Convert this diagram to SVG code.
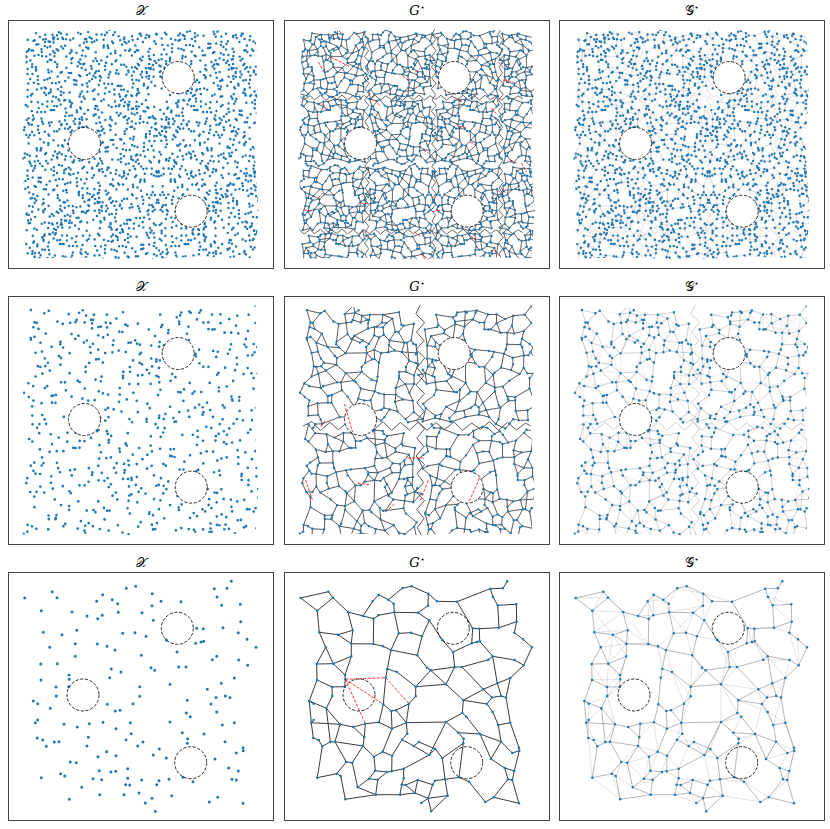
<svg xmlns="http://www.w3.org/2000/svg" width="830" height="829" viewBox="0 0 830 829">
<style>
.fr{fill:none;stroke:#444;stroke-width:1}
.ho{fill:#fff;stroke:#111;stroke-width:.9;stroke-dasharray:3.2 1.6}
.ho3{fill:none;stroke:#111;stroke-width:.9;stroke-dasharray:3.2 1.6}
.ttl{font-family:"DejaVu Serif","Liberation Serif",serif;font-size:13px;text-anchor:middle;fill:#000}
.dot{fill:none;stroke:#1f77b4;stroke-linecap:round}
.ed{fill:none;stroke:#3a3a3a;stroke-linecap:round}
.gl{fill:none;stroke:#707070;stroke-linecap:round}
.rd{fill:none;stroke:#f00;stroke-width:.8;stroke-dasharray:3 1.5}
</style>
<defs>
<clipPath id="cl"><polygon points="17,9 70,11 130,8 190,10 247,9 249,70 246,130 250,190 247,238 190,236 130,239 70,237 14,238 16,180 13,120 17,60"/></clipPath>
<path id="p3" d="M16.7 26h0M44.3 19.7h0M49 25.7h0M33.3 38.7h0M35.3 60.3h0M54 62.7h0M41.7 75.3h0M32.7 92h0M49.3 91.7h0M33 108h0M48 115h0M64 40h0M68.7 58.3h0M67.3 71.7h0M67.3 84.3h0M61 103h0M61.3 107.3h0M60.7 114.7h0M79 44h0M88.7 29.3h0M94.7 22.7h0M89.7 46.7h0M94.3 43.3h0M104.3 27.7h0M109.7 31.7h0M110.3 40.3h0M118.3 16.3h0M127.7 14.3h0M89.3 72h0M99 74.3h0M107 78h0M114.7 61.3h0M127 60.7h0M138 64.3h0M134 40.7h0M144.3 21.7h0M144 33.7h0M153 29.3h0M145.3 48.3h0M173 29.7h0M133.3 83.3h0M103.3 97h0M113 100h0M101.7 105.7h0M143 95.7h0M146.7 98.3h0M131.7 114.7h0M131.7 124.3h0M158.3 68h0M169 80h0M170.7 95h0M178 95h0M162 112.3h0M188.7 56.3h0M195.3 56.7h0M187.7 71.3h0M193 70h0M195.7 69.3h0M204.3 87.7h0M208.7 84.3h0M199.3 117.3h0M206.3 16.7h0M219 16.3h0M223.3 9.3h0M209 25h0M213.7 33.3h0M232.3 32.3h0M232.7 49.7h0M215 55.7h0M230.3 60.7h0M239 67.3h0M248 75.3h0M230.7 88h0M239.7 93.3h0M213.3 111.3h0M226.3 106h0M208 125.5h0M217.3 124h0M222 125.5h0M48.3 124h0M25.3 129h0M29.7 131.7h0M42.3 136.3h0M27.3 150.7h0M29.7 148h0M56 152.3h0M69.3 155h0M81.3 151.7h0M95 150.3h0M99.3 132.3h0M107.3 139h0M112 138.3h0M125 131.7h0M122.3 150.7h0M108 156.7h0M29.3 166h0M34.7 168h0M38.3 174.3h0M46.3 170h0M51 169.7h0M80.3 165.3h0M79 174h0M123.3 161.7h0M118 167.7h0M129.7 174h0M135 170h0M98.7 179.7h0M90 184.7h0M108 183.7h0M62.3 190h0M68.3 190.7h0M52.7 201.7h0M56.7 204h0M33.3 205.7h0M91.3 198.7h0M103 200h0M107.7 199.3h0M119.7 196.7h0M85 206.7h0M93.7 207.7h0M119.7 206.3h0M117.7 212.7h0M121.7 213h0M133.7 208h0M73.7 215.3h0M61.3 227.3h0M91.7 222.7h0M116 222.7h0M131 221h0M137.3 231h0M144 226.3h0M147.3 239.3h0M148.7 212.7h0M151 208.7h0M161 207.3h0M163.7 223.7h0M145.3 183h0M151.3 177h0M158.3 186h0M162 150h0M174.3 160.7h0M179.7 166.7h0M179.3 171.3h0M178.3 141h0M182.3 144.7h0M179.3 128.3h0M196 162h0M203 132h0M208.7 140h0M214.3 153h0M226.3 150.7h0M217 169.7h0M207 187h0M220.7 196h0M228.3 181h0M235 175.7h0M235.3 178.7h0M230.3 199h0M224 207.3h0M228.3 208h0M175 205.3h0M185 209.7h0M209.7 225.3h0M201.3 230h0M235 231.3h0"/>
<path id="e3" d="M16.7 26L44.3 19.7M16.7 26L33.3 38.7M44.3 19.7L49 25.7M49 25.7L33.3 38.7M49 25.7L64 40M33.3 38.7L35.3 60.3M64 40L68.7 58.3M64 40L79 44M35.3 60.3L54 62.7M35.3 60.3L41.7 75.3M54 62.7L68.7 58.3M54 62.7L67.3 71.7M68.7 58.3L67.3 71.7M67.3 71.7L67.3 84.3M67.3 71.7L89.3 72M41.7 75.3L32.7 92M41.7 75.3L49.3 91.7M32.7 92L49.3 91.7M32.7 92L33 108M49.3 91.7L67.3 84.3M49.3 91.7L61 103M67.3 84.3L61 103M61 103L61.3 107.3M61.3 107.3L60.7 114.7M33 108L48 115M33 108L25.3 129M48 115L60.7 114.7M48 115L48.3 124M48.3 124L42.3 136.3M25.3 129L29.7 131.7M25.3 129L42.3 136.3M25.3 129L27.3 150.7M42.3 136.3L56 152.3M27.3 150.7L56 152.3M27.3 150.7L29.7 148M56 152.3L69.3 155M56 152.3L51 169.7M69.3 155L81.3 151.7M81.3 151.7L95 150.3M81.3 151.7L80.3 165.3M95 150.3L99.3 132.3M95 150.3L108 156.7M99.3 132.3L107.3 139M101.7 105.7L99.3 132.3M107.3 139L112 138.3M107.3 139L108 156.7M112 138.3L125 131.7M112 138.3L122.3 150.7M125 131.7L131.7 124.3M122.3 150.7L108 156.7M122.3 150.7L123.3 161.7M131.7 124.3L131.7 114.7M122.3 150.7L162 150M162 150L178.3 141M162 150L174.3 160.7M162 150L145.3 183M174.3 160.7L179.7 166.7M174.3 160.7L196 162M179.7 166.7L179.3 171.3M179.3 171.3L158.3 186M179.3 171.3L175 205.3M178.3 141L182.3 144.7M178.3 141L179.3 128.3M182.3 144.7L196 162M179.3 128.3L199.3 117.3M179.3 128.3L162 112.3M179.3 128.3L203 132M196 162L217 169.7M196 162L207 187M203 132L208.7 140M203 132L208 125.5M208.7 140L214.3 153M214.3 153L226.3 150.7M214.3 153L217 169.7M226.3 150.7L222 125.5M226.3 150.7L235 175.7M217 169.7L228.3 181M217 169.7L207 187M207 187L220.7 196M220.7 196L230.3 199M220.7 196L224 207.3M228.3 181L235.3 178.7M235 175.7L235.3 178.7M235.3 178.7L230.3 199M230.3 199L228.3 208M224 207.3L228.3 208M224 207.3L209.7 225.3M228.3 208L235 231.3M209.7 225.3L201.3 230M209.7 225.3L235 231.3M175 205.3L185 209.7M175 205.3L161 207.3M185 209.7L201.3 230M161 207.3L151 208.7M161 207.3L163.7 223.7M161 207.3L158.3 186M163.7 223.7L144 226.3M163.7 223.7L147.3 239.3M151 208.7L148.7 212.7M148.7 212.7L133.7 208M148.7 212.7L144 226.3M144 226.3L137.3 231M144 226.3L147.3 239.3M144 226.3L131 221M131 221L133.7 208M131 221L121.7 213M131 221L116 222.7M133.7 208L121.7 213M116 222.7L91.7 222.7M116 222.7L117.7 212.7M91.7 222.7L93.7 207.7M91.7 222.7L61.3 227.3M91.7 222.7L73.7 215.3M61.3 227.3L56.7 204M73.7 215.3L85 206.7M73.7 215.3L68.3 190.7M85 206.7L93.7 207.7M85 206.7L91.3 198.7M93.7 207.7L103 200M91.3 198.7L90 184.7M91.3 198.7L103 200M103 200L107.7 199.3M107.7 199.3L119.7 196.7M107.7 199.3L108 183.7M119.7 196.7L119.7 206.3M119.7 196.7L145.3 183M119.7 206.3L117.7 212.7M117.7 212.7L121.7 213M108 183.7L98.7 179.7M108 183.7L118 167.7M90 184.7L98.7 179.7M90 184.7L79 174M98.7 179.7L108 156.7M118 167.7L123.3 161.7M118 167.7L129.7 174M129.7 174L135 170M135 170L151.3 177M129.7 174L145.3 183M145.3 183L151.3 177M151.3 177L158.3 186M79 174L80.3 165.3M79 174L68.3 190.7M68.3 190.7L62.3 190M62.3 190L52.7 201.7M62.3 190L51 169.7M52.7 201.7L56.7 204M52.7 201.7L33.3 205.7M33.3 205.7L38.3 174.3M29.3 166L34.7 168M34.7 168L38.3 174.3M29.3 166L27.3 150.7M38.3 174.3L46.3 170M46.3 170L51 169.7M79 44L89.7 46.7M79 44L88.7 29.3M88.7 29.3L94.7 22.7M94.7 22.7L104.3 27.7M89.7 46.7L94.3 43.3M94.3 43.3L110.3 40.3M104.3 27.7L109.7 31.7M104.3 27.7L118.3 16.3M109.7 31.7L110.3 40.3M118.3 16.3L127.7 14.3M127.7 14.3L144.3 21.7M144.3 21.7L144 33.7M144.3 21.7L153 29.3M144 33.7L134 40.7M153 29.3L173 29.7M134 40.7L110.3 40.3M134 40.7L145.3 48.3M145.3 48.3L138 64.3M145.3 48.3L158.3 68M110.3 40.3L114.7 61.3M114.7 61.3L127 60.7M127 60.7L138 64.3M138 64.3L133.3 83.3M114.7 61.3L107 78M89.3 72L99 74.3M99 74.3L107 78M89.3 72L89.7 46.7M107 78L103.3 97M107 78L133.3 83.3M103.3 97L113 100M103.3 97L101.7 105.7M113 100L131.7 114.7M133.3 83.3L143 95.7M143 95.7L146.7 98.3M146.7 98.3L162 112.3M146.7 98.3L131.7 114.7M146.7 98.3L170.7 95M158.3 68L169 80M169 80L170.7 95M170.7 95L178 95M170.7 95L162 112.3M173 29.7L188.7 56.3M173 29.7L206.3 16.7M188.7 56.3L195.3 56.7M188.7 56.3L187.7 71.3M195.3 56.7L195.7 69.3M187.7 71.3L193 70M193 70L195.7 69.3M195.3 56.7L215 55.7M195.7 69.3L208.7 84.3M169 80L187.7 71.3M204.3 87.7L208.7 84.3M178 95L204.3 87.7M178 95L199.3 117.3M208.7 84.3L230.7 88M208.7 84.3L213.3 111.3M199.3 117.3L208 125.5M199.3 117.3L213.3 111.3M206.3 16.7L219 16.3M206.3 16.7L209 25M219 16.3L223.3 9.3M209 25L213.7 33.3M213.7 33.3L215 55.7M213.7 33.3L232.3 32.3M232.3 32.3L232.7 49.7M232.7 49.7L230.3 60.7M232.7 49.7L215 55.7M230.3 60.7L239 67.3M239 67.3L248 75.3M248 75.3L239.7 93.3M230.7 88L239.7 93.3M239.7 93.3L226.3 106M213.3 111.3L226.3 106M213.3 111.3L217.3 124M226.3 106L222 125.5M208 125.5L217.3 124M217.3 124L222 125.5M131.7 114.7L162 112.3M125 131.7L122.3 150.7M69.3 155L80.3 165.3M51 169.7L79 174M42.3 136.3L46.3 170"/>
<path id="x3" d="M16.7 26L49 25.7M44.3 19.7L33.3 38.7M44.3 19.7L64 40M33.3 38.7L64 40M33.3 38.7L54 62.7M35.3 60.3L64 40M35.3 60.3L68.7 58.3M54 62.7L41.7 75.3M54 62.7L49.3 91.7M54 62.7L67.3 84.3M41.7 75.3L67.3 71.7M49.3 91.7L67.3 71.7M32.7 92L48 115M49.3 91.7L48 115M49.3 91.7L61.3 107.3M33 108L61.3 107.3M48 115L61 103M67.3 84.3L61.3 107.3M68.7 58.3L89.3 72M67.3 71.7L99 74.3M64 40L89.7 46.7M79 44L94.3 43.3M88.7 29.3L89.7 46.7M88.7 29.3L94.3 43.3M94.7 22.7L109.7 31.7M88.7 29.3L104.3 27.7M94.7 22.7L94.3 43.3M104.3 27.7L110.3 40.3M109.7 31.7L118.3 16.3M118.3 16.3L144.3 21.7M127.7 14.3L144 33.7M144.3 21.7L173 29.7M153 29.3L145.3 48.3M144 33.7L110.3 40.3M134 40.7L127 60.7M134 40.7L114.7 61.3M144 33.7L145.3 48.3M114.7 61.3L99 74.3M107 78L113 100M99 74.3L103.3 97M89.3 72L107 78M127 60.7L133.3 83.3M133.3 83.3L146.7 98.3M133.3 83.3L131.7 114.7M113 100L131.7 124.3M143 95.7L131.7 114.7M131.7 114.7L125 131.7M131.7 124.3L122.3 150.7M158.3 68L170.7 95M169 80L178 95M158.3 68L138 64.3M169 80L162 112.3M178 95L162 112.3M162 112.3L162 150M188.7 56.3L193 70M195.3 56.7L193 70M195.7 69.3L204.3 87.7M193 70L208.7 84.3M204.3 87.7L230.7 88M208.7 84.3L226.3 106M199.3 117.3L203 132M199.3 117.3L162 112.3M213.3 111.3L208 125.5M226.3 106L217.3 124M230.7 88L226.3 106M230.3 60.7L239.7 93.3M239 67.3L239.7 93.3M215 55.7L230.3 60.7M213.7 33.3L232.7 49.7M219 16.3L213.7 33.3M223.3 9.3L209 25M209 25L232.3 32.3M188.7 56.3L215 55.7M48.3 124L29.7 131.7M48.3 124L60.7 114.7M48.3 124L56 152.3M42.3 136.3L29.7 148M29.7 131.7L29.7 148M29.7 148L29.3 166M34.7 168L46.3 170M46.3 170L56 152.3M80.3 165.3L95 150.3M79 174L98.7 179.7M79 174L62.3 190M90 184.7L68.3 190.7M90 184.7L85 206.7M108 183.7L103 200M98.7 179.7L91.3 198.7M118 167.7L135 170M123.3 161.7L129.7 174M129.7 174L119.7 196.7M135 170L145.3 183M123.3 161.7L108 156.7M108 183.7L119.7 196.7M107.7 199.3L119.7 206.3M119.7 206.3L133.7 208M116 222.7L137.3 231M131 221L137.3 231M133.7 208L151 208.7M151 208.7L145.3 183M163.7 223.7L148.7 212.7M161 207.3L185 209.7M158.3 186L175 205.3M145.3 183L158.3 186M151.3 177L162 150M162 150L182.3 144.7M174.3 160.7L182.3 144.7M179.7 166.7L196 162M179.3 171.3L196 162M179.3 128.3L208.7 140M203 132L214.3 153M208.7 140L226.3 150.7M214.3 153L222 125.5M226.3 150.7L235.3 178.7M217 169.7L235.3 178.7M207 187L228.3 181M220.7 196L228.3 181M230.3 199L224 207.3M228.3 208L209.7 225.3M185 209.7L209.7 225.3M201.3 230L163.7 223.7M33.3 205.7L61.3 227.3M56.7 204L73.7 215.3M52.7 201.7L61.3 227.3M56.7 204L62.3 190M68.3 190.7L85 206.7M33.3 205.7L29.3 166M38.3 174.3L51 169.7M27.3 150.7L34.7 168M73.7 215.3L93.7 207.7M64 40L89.3 72M110.3 40.3L127 60.7M81.3 151.7L79 174M122.3 150.7L118 167.7M95 150.3L98.7 179.7M61.3 107.3L48.3 124M101.7 105.7L113 100M113 100L125 131.7M99.3 132.3L112 138.3M158.3 68L145.3 48.3M162 112.3L178.3 141M145.3 183L162 150M196 162L203 132M207 187L217 169.7"/>
<path id="r3" d="M61.3 107.3L101.7 105.7M61.3 107.3L99.3 132.3M61.3 107.3L81.3 151.7M101.7 105.7L125 131.7"/>
<path id="z1" d="M82 9L79.8 14L84.6 19.5L80.2 25.5L84.2 30L79.9 36L84.8 41.5L80.5 46.5L84 52.5L79.7 57.5L84.5 63L80.3 68.5L84.7 74L80 79.5L84.3 85L79.8 90.5L84.6 96L80.4 101L84.1 107L79.9 112.5L84.8 118L80.2 123.5L84.4 129L79.7 134.5L84.6 140L80.3 145.5L84 151L79.9 156.5L84.7 162L80.5 167.5L84.2 173L79.8 178.5L84.6 184L80.1 189.5L84.5 195L79.9 200.5L84.3 206L80.4 211.5L84.7 217L80 222.5L84.2 228L80.5 233.5L83 238"/>
<g id="Z1"><use href="#z1"/><use href="#z1" transform="translate(67,247) scale(1,-1)"/><use href="#z1" transform="translate(134,0)"/><use href="#z1" transform="translate(0,-5.1) matrix(0 1 1 0 0 0)"/><use href="#z1" transform="translate(247,61.9) matrix(0 1 -1 0 0 0) scale(1,-1)"/><use href="#z1" transform="translate(0,128.9) matrix(0 1 1 0 0 0)"/></g>
<path id="z2" d="M135.5 9L131.3 17.5L140.2 26L132 35.5L139.6 44L131.6 53L140.3 61.5L132.4 71L139.2 79.5L131.4 88.5L140 97L132.2 106L139.8 115L131.7 124L140.1 132.5L132.3 141.5L139.4 150L131.5 159.5L140.2 168L132.6 177L139.1 186L131.3 195L140 204L132.1 213L139.7 222L132.8 231L137 239"/>
<g id="Z2"><use href="#z2"/><use href="#z2" transform="translate(10,-6.2) matrix(0 1 1 0 0 0)"/></g>
<g id="holes"><circle class="ho" cx="169.7" cy="57" r="16"/><circle class="ho" cx="76" cy="123" r="16"/><circle class="ho" cx="182.7" cy="190.7" r="16"/></g>
<g id="holes3"><circle class="ho3" cx="169.3" cy="56.3" r="16"/><circle class="ho3" cx="75" cy="123" r="16"/><circle class="ho3" cx="182.7" cy="190.7" r="16"/></g>

<g id="B1" fill="none" transform="translate(-16,-9)"><use href="#x3" stroke="#707070" stroke-opacity=".14" stroke-width="1.7" stroke-linecap="round"/><use href="#e3" stroke-width="2.6" stroke-linecap="round" visibility="visible"/><use href="#p3" stroke="#1f77b4" stroke-opacity="1" stroke-linecap="round" visibility="visible"/></g>
<g id="B1v1" transform="matrix(-1 0 0 1 233 0)"><use href="#B1"/></g>
<g id="B1v2" transform="matrix(1 0 0 -1 0 231)"><use href="#B1"/></g>
<g id="B1v3" transform="matrix(-1 0 0 -1 233 231)"><use href="#B1"/></g>
<g id="B1v4" transform="matrix(0 1 -1 0 231 0)"><use href="#B1"/></g>
<g id="B1v5" transform="matrix(0 -1 1 0 0 233)"><use href="#B1"/></g>
<g id="B1v6" transform="matrix(0 1 1 0 0 0)"><use href="#B1"/></g>
<g id="B1v7" transform="matrix(0 -1 -1 0 231 233)"><use href="#B1"/></g>
<g id="R1">
<use href="#B1v2" transform="translate(14,9) scale(.3)"/><use href="#B1v5" transform="translate(81,9) scale(.3)"/><use href="#B1" transform="translate(148,9) scale(.3)"/><use href="#B1v7" transform="translate(215,9) scale(.3)"/>
<use href="#B1v6" transform="translate(14,76) scale(.3)"/><use href="#B1v3" transform="translate(81,76) scale(.3)"/><use href="#B1v4" transform="translate(148,76) scale(.3)"/><use href="#B1v1" transform="translate(215,76) scale(.3)"/>
<use href="#B1v1" transform="translate(14,143) scale(.3)"/><use href="#B1v7" transform="translate(81,143) scale(.3)"/><use href="#B1v5" transform="translate(148,143) scale(.3)"/><use href="#B1v2" transform="translate(215,143) scale(.3)"/>
<use href="#B1v4" transform="translate(14,210) scale(.3)"/><use href="#B1" transform="translate(81,210) scale(.3)"/><use href="#B1v6" transform="translate(148,210) scale(.3)"/><use href="#B1v3" transform="translate(215,210) scale(.3)"/>
</g>

<g id="B2" fill="none" transform="translate(-16,-9)"><use href="#x3" stroke="#707070" stroke-opacity=".16" stroke-width="1.3" stroke-linecap="round"/><use href="#e3" stroke-width="1.6" stroke-linecap="round" visibility="visible"/><use href="#p3" stroke="#1f77b4" stroke-opacity="1" stroke-linecap="round" visibility="visible"/></g>
<g id="B2v1" transform="matrix(-1 0 0 1 233 0)"><use href="#B2"/></g>
<g id="B2v3" transform="matrix(-1 0 0 -1 233 231)"><use href="#B2"/></g>
<g id="B2v4" transform="matrix(0 1 -1 0 231 0)"><use href="#B2"/></g>
<g id="B2v6" transform="matrix(0 1 1 0 0 0)"><use href="#B2"/></g>
<g id="R2">
<use href="#B2v3" transform="translate(15,9) scale(.53)"/><use href="#B2v4" transform="translate(133.5,9) scale(.53)"/>
<use href="#B2v6" transform="translate(15,127.5) scale(.53)"/><use href="#B2v1" transform="translate(133.5,127.5) scale(.53)"/>
</g>
</defs>

<!-- Row 1 -->
<g id="panel-x-1" transform="translate(8.5,20.5)">
<text class="ttl" x="132.5" y="-5.5">𝒳</text>
<g clip-path="url(#cl)"><use href="#R1" style="stroke:none;visibility:hidden;stroke-width:8.3"/></g>
<use href="#holes"/>
<rect class="fr" x="0" y="0" width="265" height="248"/>
</g>
<g id="panel-g-1" transform="translate(284.5,20.5)">
<text class="ttl" x="132.5" y="-5.5"><tspan font-style="italic">G</tspan><tspan font-size="8" dy="-5">⋆</tspan></text>
<g clip-path="url(#cl)"><use href="#Z1" class="ed" style="stroke-width:.75"/><use href="#R1" style="stroke:#3a3a3a;stroke-opacity:1;visibility:hidden;stroke-width:7.3"/></g>
<use href="#holes"/>
<path class="rd" d="M46 36.5L66 46.5M34 41.5L39 51.5M118 55.5L124 59.5M131 51.5L136 47.5M38 83.5L44 89.5M90 79.5L96 85.5M171 77.5L178 81.5M214 41.5L219 47.5M219 59.5L229 61.5M207 87.5L212 93.5M174 105.5L182 107.5M34 177.5L38 172.5M19 189.5L28 190.5M76 182.5L86 183.5M148 191.5L156 189.5M130 211.5L136 215.5M186 215.5L192 219.5M136 233.5L144 238.5M210 230.5L216 235.5M216 166.5L221 172.5M237 142.5L242 151.5M226 139.5L232 142.5M186 121.5L191 124.5M139 129.5L144 132.5"/>
<rect class="fr" x="0" y="0" width="265" height="248"/>
</g>
<g id="panel-gc-1" transform="translate(559.5,20.5)">
<text class="ttl" x="132.5" y="-5.5">𝒢<tspan font-size="8" dy="-5">⋆</tspan></text>
<g clip-path="url(#cl)"><use href="#Z1" class="gl" style="stroke-width:.7;stroke-opacity:.3"/><use href="#R1" style="stroke:#707070;stroke-opacity:.3;visibility:visible;stroke-width:8"/></g>
<use href="#holes"/>
<rect class="fr" x="0" y="0" width="265" height="248"/>
</g>

<!-- Row 2 -->
<g id="panel-x-2" transform="translate(8.5,296.5)">
<text class="ttl" x="132.5" y="-5.5">𝒳</text>
<g clip-path="url(#cl)"><use href="#R2" style="stroke:none;visibility:hidden;stroke-width:5.1"/></g>
<use href="#holes"/>
<rect class="fr" x="0" y="0" width="265" height="248"/>
</g>
<g id="panel-g-2" transform="translate(284.5,296.5)">
<text class="ttl" x="132.5" y="-5.5"><tspan font-style="italic">G</tspan><tspan font-size="8" dy="-5">⋆</tspan></text>
<g clip-path="url(#cl)"><use href="#Z2" class="ed" style="stroke-width:.85"/><use href="#R2" style="stroke:#3a3a3a;stroke-opacity:1;visibility:hidden;stroke-width:4.5"/></g>
<use href="#holes"/>
<path class="rd" d="M21 183.5L28 203.5M73 186.5L86 188.5M123 161.5L139 161.5M136 203.5L144 183.5M101 215.5L111 206.5M195 181.5L184 206.5M36 130.5L41 123.5M60 107.5L68 135.5"/>
<rect class="fr" x="0" y="0" width="265" height="248"/>
</g>
<g id="panel-gc-2" transform="translate(559.5,296.5)">
<text class="ttl" x="132.5" y="-5.5">𝒢<tspan font-size="8" dy="-5">⋆</tspan></text>
<g clip-path="url(#cl)"><use href="#Z2" class="gl" style="stroke-width:.85;stroke-opacity:.4"/><use href="#R2" style="stroke:#707070;stroke-opacity:.4;visibility:visible;stroke-width:4.7"/></g>
<use href="#holes"/>
<rect class="fr" x="0" y="0" width="265" height="248"/>
</g>

<!-- Row 3 -->
<g id="panel-x-3" transform="translate(8,572)">
<text class="ttl" x="133" y="-5">𝒳</text>
<use href="#p3" class="dot" style="stroke-width:3"/>
<use href="#holes3"/>
<rect class="fr" x="0.5" y="0.5" width="265" height="248"/>
</g>
<g id="panel-g-3" transform="translate(284,572)">
<text class="ttl" x="133" y="-5"><tspan font-style="italic">G</tspan><tspan font-size="8" dy="-5">⋆</tspan></text>
<g id="connectors-3"><use href="#e3" class="ed" style="stroke-width:1"/><use href="#r3" class="rd"/></g>
<use href="#p3" class="dot" style="stroke-width:2.6"/>
<use href="#holes3"/>
<rect class="fr" x="0.5" y="0.5" width="265" height="248"/>
</g>
<g id="panel-gc-3" transform="translate(559,572)">
<text class="ttl" x="133" y="-5">𝒢<tspan font-size="8" dy="-5">⋆</tspan></text>
<g id="connectors-3b"><use href="#x3" class="gl" style="stroke-width:.9;stroke-opacity:.22"/><use href="#e3" class="gl" style="stroke-width:1;stroke-opacity:.5"/></g>
<use href="#p3" class="dot" style="stroke-width:2.6"/>
<use href="#holes3"/>
<rect class="fr" x="0.5" y="0.5" width="265" height="248"/>
</g>
</svg>
